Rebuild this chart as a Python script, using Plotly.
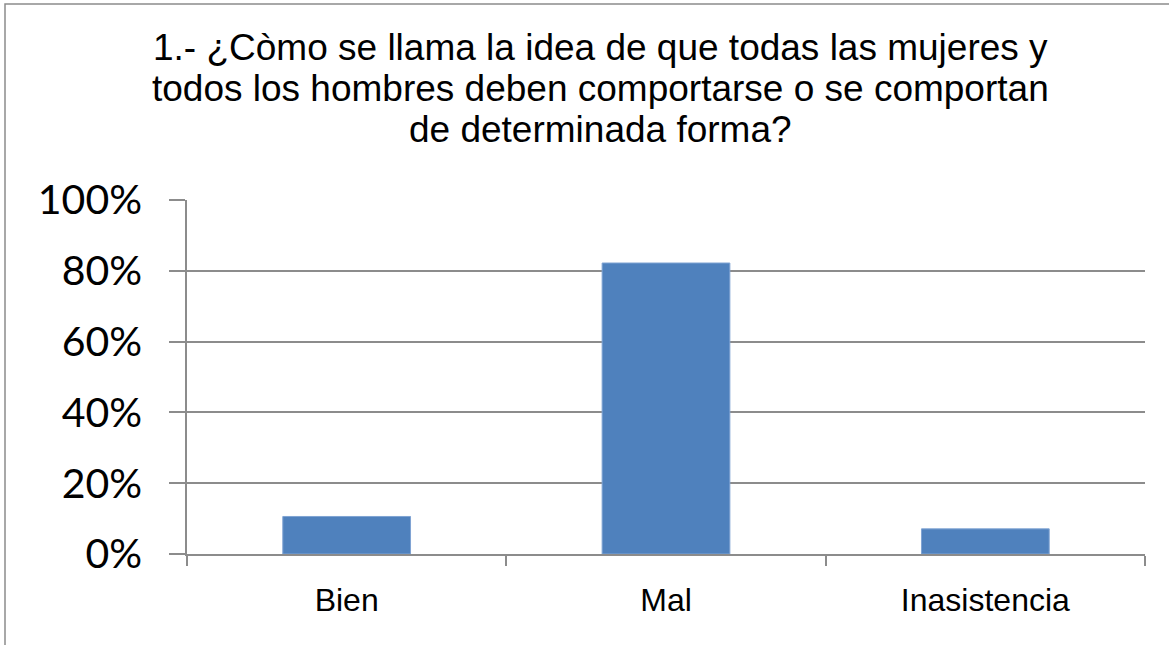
import plotly.graph_objects as go

categories = ["Bien", "Mal", "Inasistencia"]
values = [0.106, 0.822, 0.071]
y_ticks = [0, 0.2, 0.4, 0.6, 0.8, 1.0]
y_tick_labels = ["0%", "20%", "40%", "60%", "80%", "100%"]
title_lines = [
    "1.- ¿Còmo se llama la idea de que todas las mujeres y",
    "todos los hombres deben comportarse o se comportan",
    "de determinada forma?",
]

W, H = 1169, 645
L, R, T, B = 187, 24, 200, 91
grid_col = "#8c8c8c"
pw, ph = W - L - R, H - T - B

fig = go.Figure()
fig.add_trace(go.Bar(
    x=categories,
    y=values,
    width=0.4,
    marker=dict(color="#4f81bd", line=dict(color="#7fa3d3", width=1)),
    showlegend=False,
))

# outer chart border (top and left visible, rest cropped)
fig.add_shape(
    type="rect", xref="paper", yref="paper",
    x0=(5 - L) / pw, x1=(W + 20 - L) / pw,
    y0=-(B + 20) / ph, y1=(H - B - 4) / ph,
    line=dict(color="#8c8c8c", width=1.5), fillcolor="rgba(0,0,0,0)",
)

# title as separate lines (tighter line spacing than plotly's default)
for i, line in enumerate(title_lines):
    fig.add_annotation(
        text=line, showarrow=False,
        xref="paper", yref="paper",
        x=(600 - L) / pw, xanchor="center",
        y=(H - B - (47 + 41.5 * i)) / ph, yanchor="middle",
        font=dict(family="Liberation Sans", size=37, color="black"),
    )

fig.update_layout(
    width=W, height=H,
    margin=dict(l=L, r=R, t=T, b=B, autoexpand=False),
    paper_bgcolor="white", plot_bgcolor="white",
    bargap=0.6,
)
fig.update_xaxes(
    automargin=False,
    showline=True, linecolor=grid_col, linewidth=1.5,
    ticks="outside", tickson="boundaries", ticklen=10, tickcolor=grid_col, tickwidth=1.5,
    tickfont=dict(family="Liberation Sans", size=32, color="black"),
    ticklabelstandoff=17,
    showgrid=False,
)
fig.update_yaxes(
    automargin=False,
    range=[0, 1], tickvals=y_ticks, ticktext=y_tick_labels,
    showline=True, linecolor=grid_col, linewidth=1.5,
    ticks="outside", ticklen=16, tickcolor=grid_col, tickwidth=1.5,
    tickfont=dict(family="Lato", size=41, color="black"),
    ticklabelstandoff=19,
    showgrid=True, gridcolor=grid_col, gridwidth=1.5,
    zeroline=False,
)

fig.write_html(
    "out.html",
    config={"displayModeBar": False},
    post_script="document.body.style.margin = '0';",
)
